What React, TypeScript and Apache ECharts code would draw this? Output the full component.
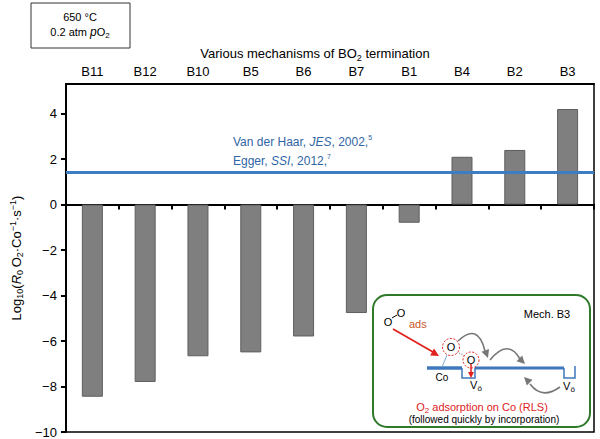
import React, { useEffect, useRef } from "react";
import * as echarts from "echarts";

const categories = ["B11", "B12", "B10", "B5", "B6", "B7", "B1", "B4", "B2", "B3"];
const values = [-8.45, -7.8, -6.67, -6.5, -5.8, -4.77, -0.8, 2.1, 2.4, 4.2];
const literatureValue = 1.4;
const yMin = -10;
const yMax = 5.3;
const yInterval = 2;

const FONT = "Liberation Sans, Arial, Helvetica, sans-serif";

function head(tx: number, ty: number, angleDeg: number, size: number, color: string) {
  const a = (angleDeg * Math.PI) / 180;
  const bx = tx - Math.cos(a) * size;
  const by = ty - Math.sin(a) * size;
  const px = -Math.sin(a) * size * 0.5;
  const py = Math.cos(a) * size * 0.5;
  return {
    type: "polygon",
    shape: { points: [[tx, ty], [bx + px, by + py], [bx - px, by - py]] },
    style: { fill: color },
    z: 102,
  };
}

const subRich = {
  sub: { fontSize: 8, verticalAlign: "bottom", lineHeight: 8, fontFamily: FONT },
  sup: { fontSize: 8, verticalAlign: "top", lineHeight: 8, fontFamily: FONT },
  it: { fontStyle: "italic", fontFamily: FONT },
};

export default function App() {
  const ref = useRef<HTMLDivElement>(null);
  useEffect(() => {
    if (!ref.current) return;
    const chart = echarts.init(ref.current, null, { renderer: "svg" });
    const red = "#e0211d";
    const gray = "#777777";
    const blue = "#3f78bd";
    const inset: any[] = [
      {
        type: "rect",
        shape: { x: 373, y: 295, width: 217, height: 132, r: 14 },
        style: { fill: "#fff", stroke: "#2f7a2a", lineWidth: 2 },
        z: 100,
      },
      { type: "text", x: 547, y: 314, style: { text: "Mech. B3", fontSize: 11, fontFamily: FONT, fill: "#000", align: "center", verticalAlign: "middle" }, z: 101 },
      { type: "text", x: 388, y: 322, style: { text: "O", fontSize: 11, fontFamily: FONT, fill: "#000", align: "center", verticalAlign: "middle" }, z: 101 },
      { type: "text", x: 401, y: 313, style: { text: "O", fontSize: 11, fontFamily: FONT, fill: "#000", align: "center", verticalAlign: "middle" }, z: 101 },
      { type: "line", shape: { x1: 392, y1: 318, x2: 397, y2: 315 }, style: { stroke: "#000", lineWidth: 1 }, z: 101 },
      { type: "text", x: 409, y: 324, style: { text: "ads", fontSize: 11, fontFamily: FONT, fill: "#c8582a", align: "left", verticalAlign: "middle" }, z: 101 },
      { type: "line", shape: { x1: 393, y1: 329, x2: 433, y2: 352 }, style: { stroke: red, lineWidth: 1.8 }, z: 101 },
      head(439, 356, 30, 8, red),
      {
        type: "polyline",
        shape: { points: [[427, 368], [462, 368]] },
        style: { stroke: blue, lineWidth: 3.5 },
        z: 101,
      },
      {
        type: "polyline",
        shape: { points: [[462, 368], [462, 378], [475, 378], [475, 368]] },
        style: { stroke: blue, lineWidth: 1.5 },
        z: 101,
      },
      {
        type: "polyline",
        shape: { points: [[475, 368], [564, 368]] },
        style: { stroke: blue, lineWidth: 3 },
        z: 101,
      },
      {
        type: "polyline",
        shape: { points: [[564, 368], [564, 378], [575, 378], [575, 366]] },
        style: { stroke: blue, lineWidth: 1.5 },
        z: 101,
      },
      { type: "line", shape: { x1: 442, y1: 367, x2: 447, y2: 355 }, style: { stroke: "#7fa8d8", lineWidth: 1 }, z: 101 },
      { type: "line", shape: { x1: 457, y1: 352, x2: 465, y2: 356 }, style: { stroke: "#555", lineWidth: 1, lineDash: [1, 1.5] }, z: 101 },
      { type: "circle", shape: { cx: 451, cy: 347, r: 8.5 }, style: { fill: "#fff", stroke: red, lineWidth: 1, lineDash: [2, 1.5] }, z: 101 },
      { type: "text", x: 451, y: 347, style: { text: "O", fontSize: 11, fontFamily: FONT, fill: "#000", align: "center", verticalAlign: "middle" }, z: 102 },
      { type: "circle", shape: { cx: 471, cy: 360, r: 8 }, style: { fill: "#fff", stroke: red, lineWidth: 1, lineDash: [2, 1.5] }, z: 101 },
      { type: "text", x: 471, y: 360, style: { text: "O", fontSize: 11, fontFamily: FONT, fill: "#000", align: "center", verticalAlign: "middle" }, z: 102 },
      { type: "line", shape: { x1: 471, y1: 364, x2: 471, y2: 373 }, style: { stroke: red, lineWidth: 1.5 }, z: 103 },
      head(471, 378, 90, 6, red),
      { type: "bezierCurve", shape: { x1: 458, y1: 341, x2: 485, y2: 351, cpx1: 478, cpy1: 322 }, style: { stroke: gray, lineWidth: 1.6, fill: null }, z: 101 },
      head(488, 358, 70, 8, gray),
      { type: "bezierCurve", shape: { x1: 490, y1: 360, x2: 520, y2: 359, cpx1: 508, cpy1: 338 }, style: { stroke: gray, lineWidth: 1.6, fill: null }, z: 101 },
      head(525, 364, 45, 8, gray),
      { type: "bezierCurve", shape: { x1: 560, y1: 387, x2: 530, y2: 384, cpx1: 542, cpy1: 400 }, style: { stroke: gray, lineWidth: 1.6, fill: null }, z: 101 },
      head(524, 377, 225, 8, gray),
      { type: "text", x: 442, y: 377, style: { text: "Co", fontSize: 10, fontFamily: FONT, fill: "#000", align: "center", verticalAlign: "middle" }, z: 101 },
      { type: "text", x: 476, y: 385, style: { text: "V{sub|ö}", rich: subRich, fontSize: 11, lineHeight: 14, fontFamily: FONT, fill: "#000", align: "center", verticalAlign: "middle" }, z: 101 },
      { type: "text", x: 569, y: 386, style: { text: "V{sub|ö}", rich: subRich, fontSize: 11, lineHeight: 14, fontFamily: FONT, fill: "#000", align: "center", verticalAlign: "middle" }, z: 101 },
      {
        type: "text", x: 482, y: 407,
        style: {
          text: "O{s|2} adsorption on Co (RLS)",
          rich: { s: { fontSize: 8, verticalAlign: "bottom", lineHeight: 8, fill: red, fontFamily: FONT } },
          fontSize: 11, lineHeight: 15, fontFamily: FONT, fill: red, align: "center", verticalAlign: "middle",
        },
        z: 101,
      },
      { type: "text", x: 484, y: 419, style: { text: "(followed quickly by incorporation)", fontSize: 10, fontFamily: FONT, fill: "#000", align: "center", verticalAlign: "middle" }, z: 101 },
    ];

    const option: any = {
      animation: false,
      textStyle: { fontFamily: FONT },
      grid: {
        left: 59, right: 6, top: 84, bottom: 7,
        show: true, borderColor: "#000", borderWidth: 1.5, backgroundColor: "transparent",
      },
      xAxis: [
        {
          type: "category",
          data: categories,
          position: "top",
          axisLine: { show: true, onZero: false, lineStyle: { color: "#000", width: 2 } },
          axisTick: { show: false },
          axisLabel: { color: "#000", fontSize: 13, margin: 6, fontFamily: FONT },
        },
        {
          type: "category",
          data: categories,
          position: "bottom",
          axisLine: { show: true, onZero: true, lineStyle: { color: "#000", width: 2 } },
          axisTick: { show: true, inside: false, length: 5, lineStyle: { color: "#000", width: 2 } },
          axisLabel: { show: false },
        },
      ],
      yAxis: {
        type: "value",
        min: yMin,
        max: yMax,
        interval: yInterval,
        splitLine: { show: false },
        axisLine: { show: true, lineStyle: { color: "#000", width: 2 } },
        axisTick: { show: true, length: 5, lineStyle: { color: "#000", width: 2 } },
        axisLabel: {
          color: "#000", fontSize: 13, margin: 9, fontFamily: FONT, showMaxLabel: false,
          formatter: (v: number) => (Math.abs(v % 2) > 1e-6 ? "" : v < 0 ? "\u2212" + Math.abs(v) : String(v)),
        },
        name: "Log{sub|10}({it|R}{sub|0}\u2009O{sub|2}\u00b7Co{sup|\u22121}\u00b7s{sup|\u22121})",
        nameLocation: "middle",
        nameGap: 32,
        nameRotate: 90,
        nameTextStyle: {
          color: "#000", fontSize: 13, fontFamily: FONT, lineHeight: 16,
          rich: {
            sub: { fontSize: 9, verticalAlign: "bottom", lineHeight: 9, color: "#000", fontFamily: FONT },
            sup: { fontSize: 9, verticalAlign: "top", lineHeight: 9, color: "#000", fontFamily: FONT },
            it: { fontStyle: "italic", fontSize: 13, color: "#000", fontFamily: FONT },
          },
        },
      },
      series: [
        {
          type: "bar",
          xAxisIndex: 0,
          data: values,
          barWidth: 21,
          itemStyle: { color: "#7f7f7f", borderColor: "#5e5e5e", borderWidth: 1 },
          markLine: {
            silent: true,
            symbol: "none",
            label: { show: false },
            lineStyle: { color: "#3e7dbf", width: 3, type: "solid" },
            data: [{ yAxis: literatureValue }],
          },
        },
      ],
      graphic: [
        {
          type: "rect",
          shape: { x: 31, y: 3, width: 99, height: 45 },
          style: { fill: "#fff", stroke: "#333", lineWidth: 1 },
        },
        { type: "text", x: 80, y: 17, style: { text: "650 \u00b0C", fontSize: 11, fontFamily: FONT, fill: "#000", align: "center", verticalAlign: "middle" } },
        {
          type: "text", x: 80, y: 32,
          style: {
            text: "0.2 atm {it|p}O{sub|2}", rich: subRich, fontSize: 11, lineHeight: 15, fontFamily: FONT, fill: "#000",
            align: "center", verticalAlign: "middle",
          },
        },
        {
          type: "text", x: 315, y: 53,
          style: {
            text: "Various mechanisms of BO{sub|2} termination",
            rich: { sub: { fontSize: 9, verticalAlign: "bottom", lineHeight: 9, fontFamily: FONT } },
            fontSize: 13, lineHeight: 18, fontFamily: FONT, fill: "#000", align: "center", verticalAlign: "middle",
          },
        },
        {
          type: "text", x: 233, y: 142,
          style: {
            text: "Van der Haar, {it|JES}, 2002,{sup|5}",
            rich: {
              it: { fontStyle: "italic", fontSize: 12, fill: "#2f65a6", fontFamily: FONT },
              sup: { fontSize: 7, verticalAlign: "top", lineHeight: 7, fill: "#2f65a6", fontFamily: FONT },
            },
            fontSize: 12, lineHeight: 16, fontFamily: FONT, fill: "#2f65a6", align: "left", verticalAlign: "middle",
          },
          z: 10,
        },
        {
          type: "text", x: 233, y: 161,
          style: {
            text: "Egger, {it|SSI}, 2012,{sup|7}",
            rich: {
              it: { fontStyle: "italic", fontSize: 12, fill: "#2f65a6", fontFamily: FONT },
              sup: { fontSize: 7, verticalAlign: "top", lineHeight: 7, fill: "#2f65a6", fontFamily: FONT },
            },
            fontSize: 12, lineHeight: 16, fontFamily: FONT, fill: "#2f65a6", align: "left", verticalAlign: "middle",
          },
          z: 10,
        },
        ...inset,
      ],
    };
    chart.setOption(option);
    return () => chart.dispose();
  }, []);
  return <div ref={ref} style={{ position: "absolute", left: 0, top: 0, width: 600, height: 439 }} />;
}
